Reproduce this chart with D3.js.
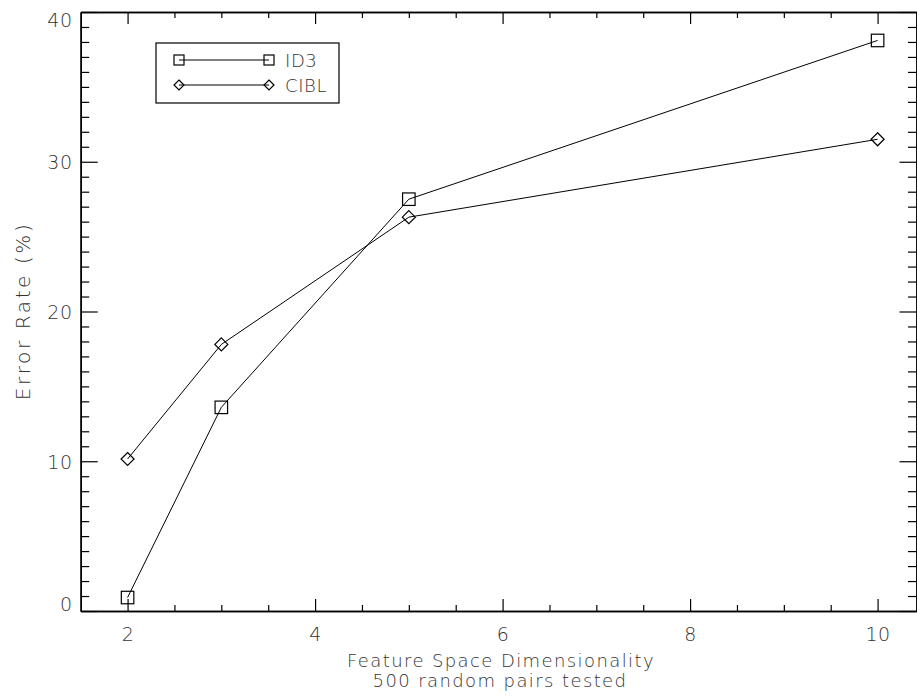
<!DOCTYPE html>
<html>
<head>
<meta charset="utf-8">
<script src="https://cdn.jsdelivr.net/npm/d3@7"></script>
<style>
  body { margin: 0; background: #fff; }
  text { font-family: "DejaVu Sans", sans-serif; font-weight: 200; fill: #333; }
</style>
</head>
<body>
<svg id="chart" width="917" height="698"></svg>
<script>
// data
const dims = [2, 3, 5, 10];
const id3 = [0.9, 13.6, 27.5, 38.1];
const cibl = [10.15, 17.8, 26.3, 31.5];
const seriesNames = ["ID3", "CIBL"];
const xTicks = [2, 4, 6, 8, 10];
const yTicks = [0, 10, 20, 30, 40];

const plotLeft = 80.7, plotRight = 916.5, plotTop = 12, plotBottom = 611;

const svg = d3.select("#chart");

const x = d3.scaleLinear().domain([1.5, 10.415]).range([plotLeft, plotRight]);
const y = d3.scaleLinear().domain([0, 40]).range([plotBottom, plotTop]);

// minor ticks
const xMinor = d3.range(2.5, 10.01, 0.5).filter(v => !xTicks.includes(v));
const yMinor = d3.range(1, 40, 1).filter(v => v % 10 !== 0);

const fmt = d3.format("d");

// bottom axis
svg.append("g").attr("transform", `translate(0,${plotBottom})`)
	.call(d3.axisBottom(x).tickValues(xTicks).tickFormat(fmt).tickSizeInner(-12).tickSizeOuter(0).tickPadding(17));
svg.append("g").attr("transform", `translate(0,${plotBottom})`)
	.call(d3.axisBottom(x).tickValues(xMinor).tickFormat("").tickSizeInner(-6).tickSizeOuter(0));
// top axis
svg.append("g").attr("transform", `translate(0,${plotTop})`)
	.call(d3.axisTop(x).tickValues(xTicks).tickFormat("").tickSizeInner(-12).tickSizeOuter(0));
svg.append("g").attr("transform", `translate(0,${plotTop})`)
	.call(d3.axisTop(x).tickValues(xMinor).tickFormat("").tickSizeInner(-6).tickSizeOuter(0));
// left axis
const gy = svg.append("g").attr("transform", `translate(${plotLeft},0)`)
	.call(d3.axisLeft(y).tickValues(yTicks).tickFormat(fmt).tickSizeInner(-17).tickSizeOuter(0).tickPadding(8));
svg.append("g").attr("transform", `translate(${plotLeft},0)`)
	.call(d3.axisLeft(y).tickValues(yMinor).tickFormat("").tickSizeInner(-8.5).tickSizeOuter(0));
// right axis
svg.append("g").attr("transform", `translate(${plotRight},0)`)
	.call(d3.axisRight(y).tickValues(yTicks).tickFormat("").tickSizeInner(-17).tickSizeOuter(0));
svg.append("g").attr("transform", `translate(${plotRight},0)`)
	.call(d3.axisRight(y).tickValues(yMinor).tickFormat("").tickSizeInner(-8.5).tickSizeOuter(0));

svg.selectAll(".domain").attr("stroke", "#000").attr("stroke-width", 1.5);
svg.selectAll(".tick line").attr("stroke", "#000").attr("stroke-width", 1.2);
svg.selectAll(".tick text").style("font-size", "19px").style("letter-spacing", "0.6px");

// keep end labels inside the frame like the original
gy.selectAll(".tick text").attr("dy", d => d === 0 ? "-0.02em" : d === 40 ? "0.78em" : "0.38em");

// axis titles
svg.append("text").attr("x", 501).attr("y", 667)
	.attr("text-anchor", "middle").style("font-size", "18px").style("letter-spacing", "1.4px")
	.text("Feature Space Dimensionality");
svg.append("text").attr("x", 500).attr("y", 687)
	.attr("text-anchor", "middle").style("font-size", "18px").style("letter-spacing", "1.4px")
	.text("500 random pairs tested");
svg.append("text").attr("transform", `translate(30,311) rotate(-90)`)
	.attr("text-anchor", "middle").style("font-size", "20px").style("letter-spacing", "2.6px")
	.text("Error Rate (%)");

// markers
const symbols = {
	ID3: (g, cx, cy, s) => g.append("rect").attr("x", cx - s / 2).attr("y", cy - s / 2).attr("width", s).attr("height", s),
	CIBL: (g, cx, cy, s) => g.append("path").attr("d", `M${cx},${cy - s / 2}L${cx + s / 2},${cy}L${cx},${cy + s / 2}L${cx - s / 2},${cy}Z`)
};

const series = [
	{ name: seriesNames[0], values: id3, size: 12.5 },
	{ name: seriesNames[1], values: cibl, size: 13 }
];

const line = d3.line().x(d => x(d[0])).y(d => y(d[1]));

series.forEach(s => {
	const pts = dims.map((d, i) => [d, s.values[i]]);
	svg.append("path").datum(pts).attr("d", line)
		.attr("fill", "none").attr("stroke", "#000").attr("stroke-width", 1);
	const g = svg.append("g").attr("fill", "none").attr("stroke", "#000").attr("stroke-width", 1.2);
	pts.forEach(p => symbols[s.name](g, x(p[0]), y(p[1]), s.size));
});

// legend
const legend = svg.append("g");
legend.append("rect").attr("x", 156).attr("y", 43).attr("width", 183).attr("height", 60)
	.attr("fill", "none").attr("stroke", "#000").attr("stroke-width", 1.2);
series.forEach((s, i) => {
	const ly = 60 + i * 25;
	legend.append("line").attr("x1", 179).attr("x2", 269).attr("y1", ly).attr("y2", ly)
		.attr("stroke", "#000").attr("stroke-width", 1);
	const g = legend.append("g").attr("fill", "none").attr("stroke", "#000").attr("stroke-width", 1.2);
	symbols[s.name](g, 179, ly, 10);
	symbols[s.name](g, 269, ly, 10);
	legend.append("text").attr("x", 285).attr("y", ly + 6.5).style("font-size", "18px").style("letter-spacing", "0.6px").text(s.name);
});
</script>
</body>
</html>
